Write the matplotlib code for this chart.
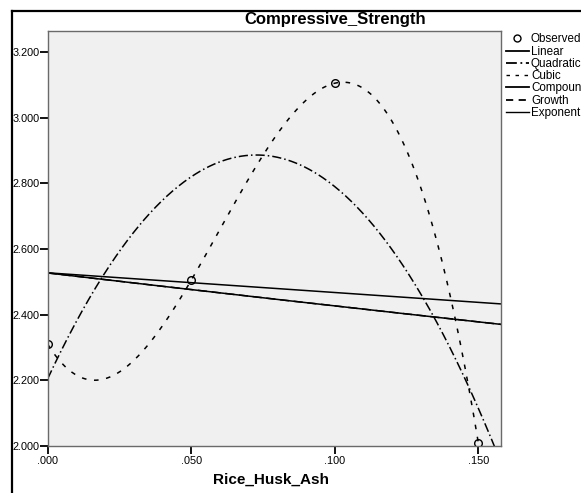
import numpy as np
import matplotlib
matplotlib.use("Agg")
import matplotlib.pyplot as plt
from matplotlib.lines import Line2D

plt.rcParams['font.family'] = ['Liberation Sans', 'DejaVu Sans']

rice_husk_ash = np.array([0.000, 0.050, 0.100, 0.150])
comp_strength = np.array([2.310, 2.505, 3.105, 2.010])

x_ticks = [0.000, 0.050, 0.100, 0.150]
x_labels = ['.000', '.050', '.100', '.150']
y_ticks = [2.0, 2.2, 2.4, 2.6, 2.8, 3.0, 3.2]
y_labels = ['2.000', '2.200', '2.400', '2.600', '2.800', '3.000', '3.200']

# curve estimation fits, same as the SPSS models
xs = np.linspace(0, 0.158, 400)
lin = np.polyval(np.polyfit(rice_husk_ash, comp_strength, 1), xs)
quad = np.polyval(np.polyfit(rice_husk_ash, comp_strength, 2), xs)
cub = np.polyval(np.polyfit(rice_husk_ash, comp_strength, 3), xs)
b, ln_a = np.polyfit(rice_husk_ash, np.log(comp_strength), 1)
expo = np.exp(ln_a + b * xs)  # compound, growth and exponential are the same curve

W, H = 581, 493
fig = plt.figure(figsize=(W / 100, H / 100), dpi=100)

# outer frame (only top and left visible)
fig.add_artist(Line2D([11.5 / W, 11.5 / W], [0, 1 - 11 / H], color='black', lw=1.6))
fig.add_artist(Line2D([11.5 / W, 1], [1 - 11 / H, 1 - 11 / H], color='black', lw=1.6))

ax = fig.add_axes([47.7 / W, 1 - 446 / H, (501 - 47.7) / W, (446 - 31) / H])
ax.set_facecolor('#f0f0f0')
for s in ax.spines.values():
    s.set_color('#6a6a6a')
    s.set_linewidth(1.0)

ax.plot(xs, lin, color='black', lw=1.1)
ax.plot(xs, quad, color='black', lw=1.1, dashes=(6, 2, 1, 2))
ax.plot(xs, cub, color='black', lw=1.1, dashes=(3, 5))
ax.plot(xs, expo, color='black', lw=1.1)
ax.plot(xs, expo, color='black', lw=1.1, dashes=(6, 3))
ax.plot(rice_husk_ash, comp_strength, 'o', mfc='none', mec='black', ms=5.5, mew=1.0)

ax.set_xlim(0, 0.1579)
ax.set_ylim(2.0, 3.264)
ax.set_xticks(x_ticks)
ax.set_xticklabels(x_labels)
ax.set_yticks(y_ticks)
ax.set_yticklabels(y_labels)
ax.tick_params(direction='out', length=5.5, width=1.3, labelsize=7.8, color='black')
ax.tick_params(axis='y', pad=0.3)
ax.tick_params(axis='x', pad=1.5)

fig.text(335.5 / W, 1 - 24 / H, 'Compressive_Strength', ha='center', va='baseline',
         fontsize=12, fontweight='bold')
fig.text(271 / W, 1 - 484 / H, 'Rice_Husk_Ash', ha='center', va='baseline',
         fontsize=11, fontweight='bold')

handles = [
    Line2D([], [], ls='none', marker='o', mfc='none', mec='black', ms=5, mew=1.0),
    Line2D([], [], color='black', lw=1.3),
    Line2D([], [], color='black', lw=1.3, dashes=(6, 2, 1, 2)),
    Line2D([], [], color='black', lw=1.0, dashes=(2.5, 4)),
    Line2D([], [], color='black', lw=1.3),
    Line2D([], [], color='black', lw=1.3, dashes=(4, 3)),
    Line2D([], [], color='black', lw=1.0),
]
labels = ['Observed', 'Linear', 'Quadratic', 'Cubic', 'Compound', 'Growth', 'Exponential']
fig.legend(handles, labels, loc='upper left', bbox_to_anchor=(506 / W, 1 - 33.5 / H),
           frameon=False, fontsize=8.4, handlelength=1.97, handletextpad=0.17,
           labelspacing=0.02, borderaxespad=0, borderpad=0)

fig.savefig('out.png', dpi=100)
